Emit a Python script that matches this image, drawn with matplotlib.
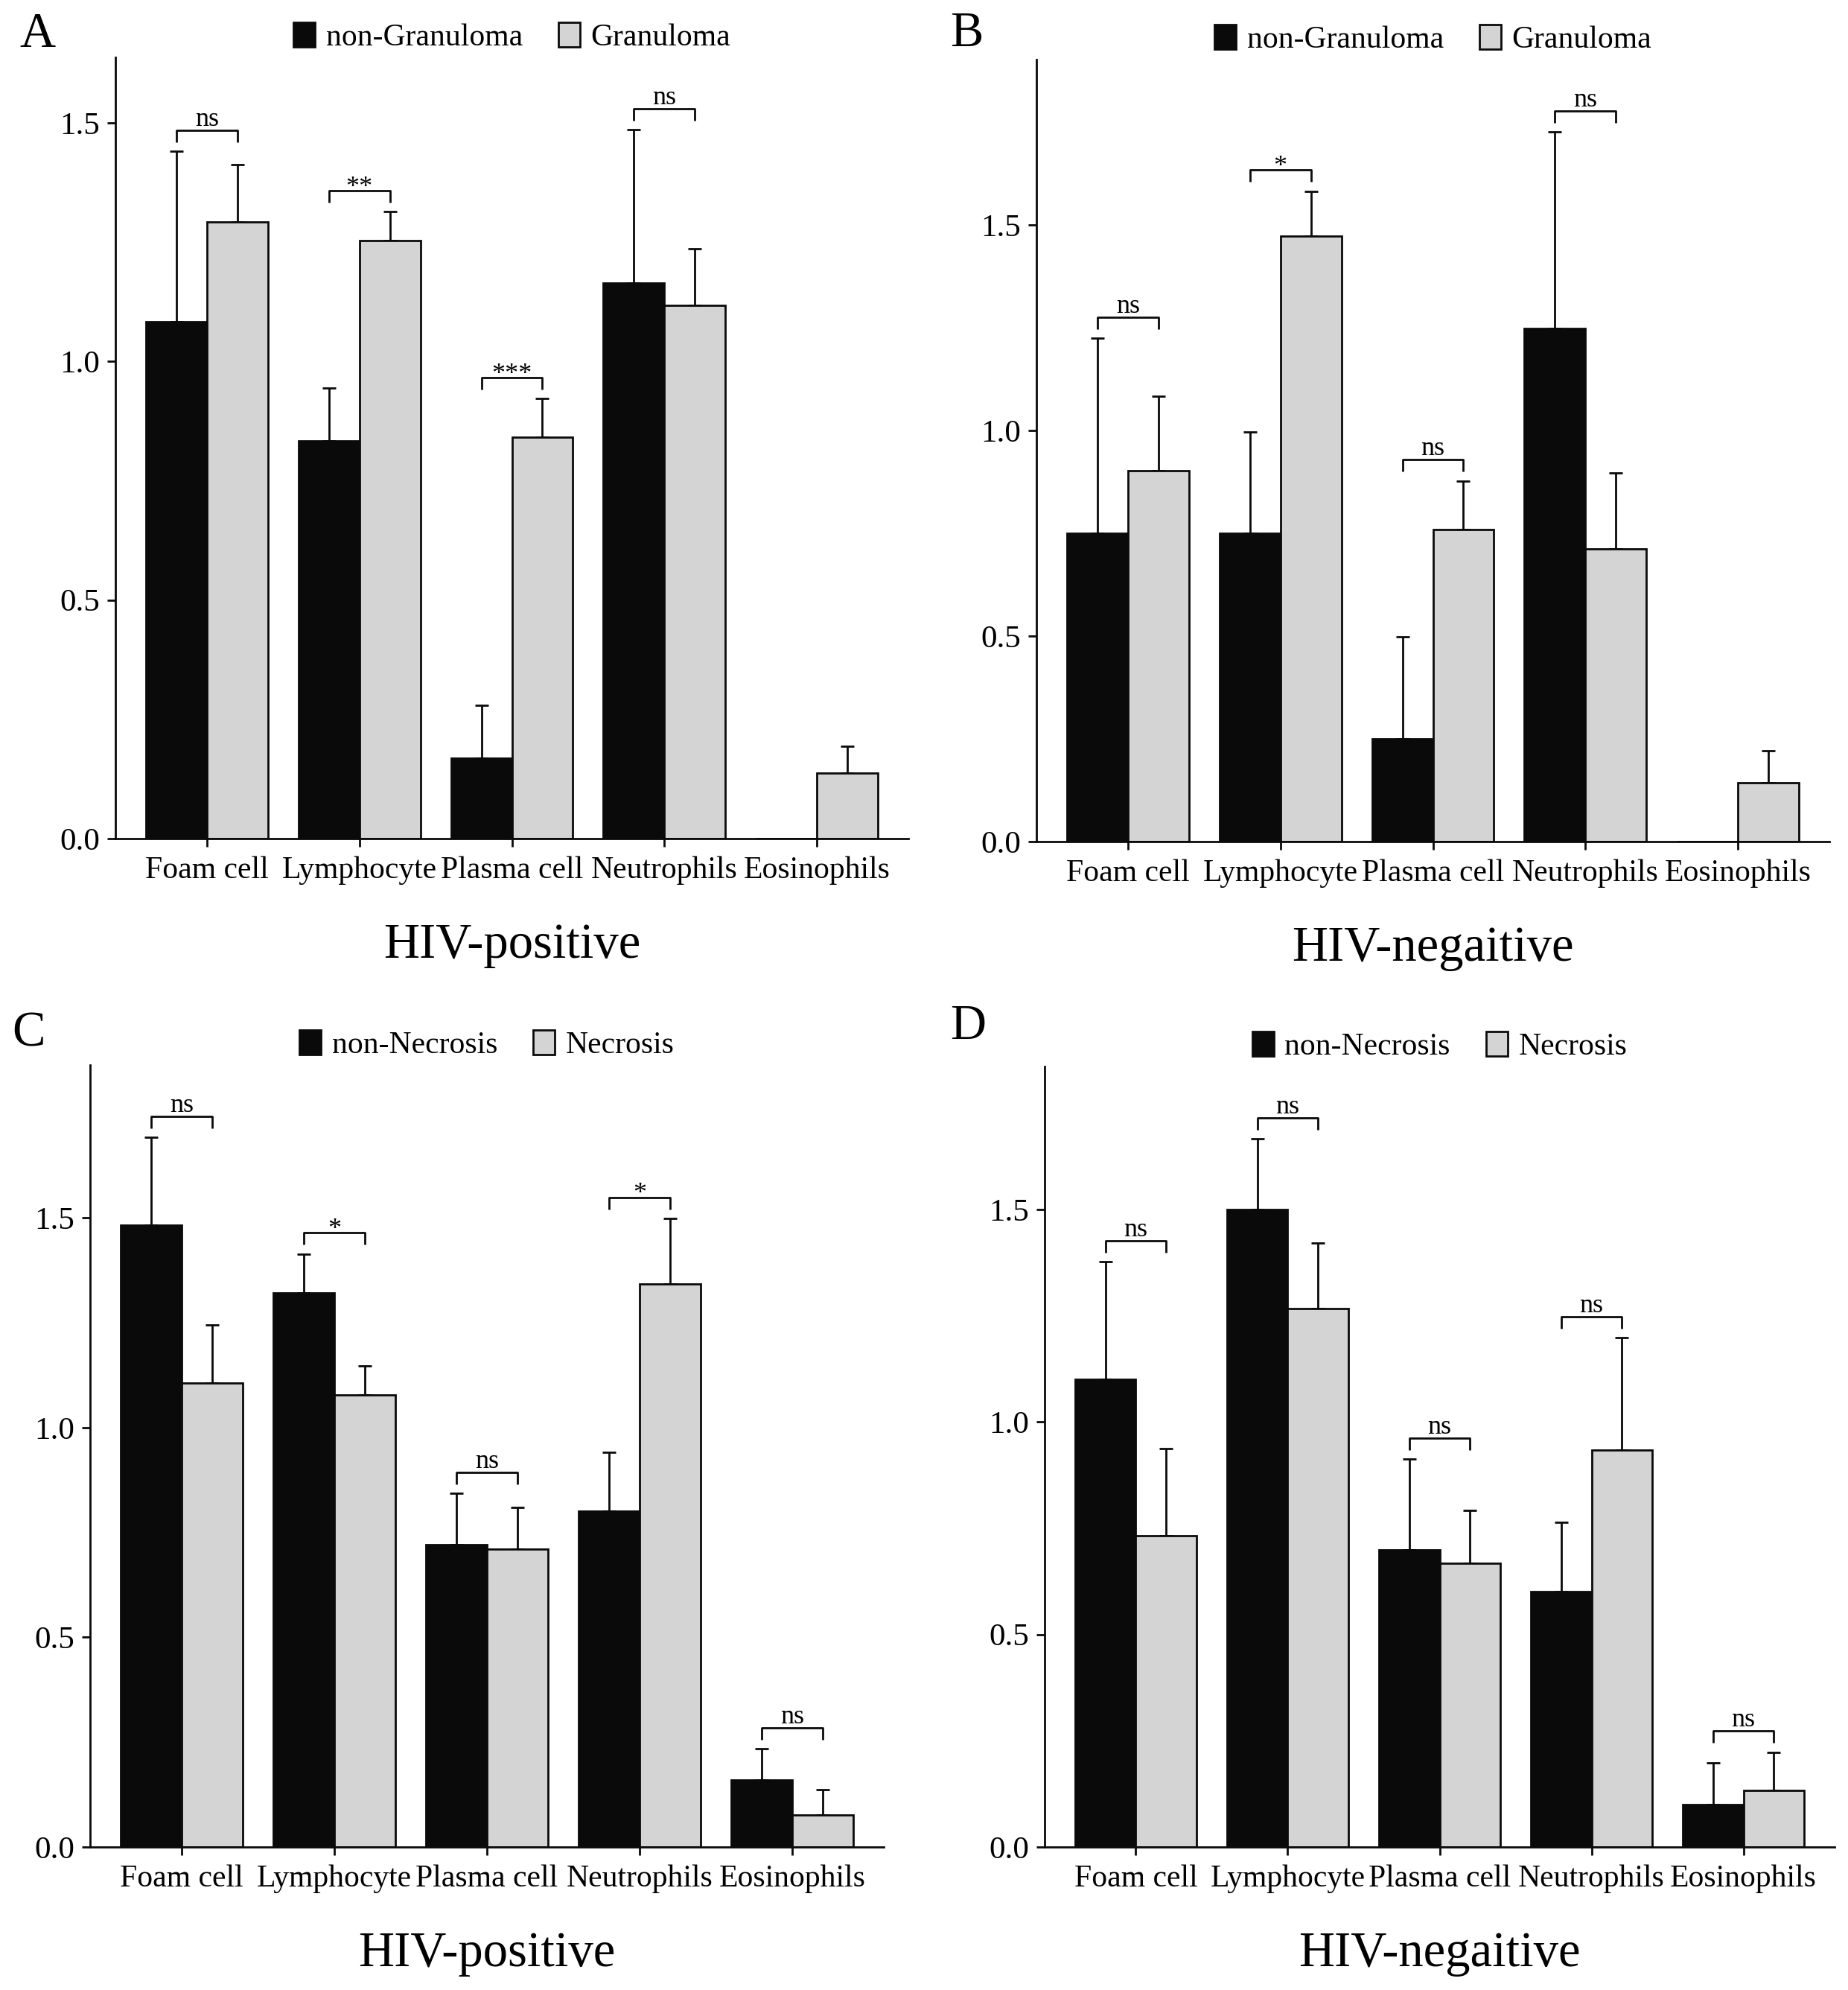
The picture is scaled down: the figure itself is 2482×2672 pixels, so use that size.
import numpy as np
import matplotlib
matplotlib.use("Agg")
import matplotlib.pyplot as plt

plt.rcParams['font.family'] = ['Liberation Serif', 'DejaVu Serif']

# cell types on the x axis
cells = ["Foam cell", "Lymphocyte", "Plasma cell", "Neutrophils", "Eosinophils"]

# A: HIV-positive, granuloma
a_non = [1.084, 0.834, 0.168, 1.165, 0.0]
a_non_err = [0.357, 0.110, 0.111, 0.321, 0.0]
a_gran = [1.293, 1.253, 0.842, 1.117, 0.138]
a_gran_err = [0.120, 0.061, 0.080, 0.119, 0.055]
a_sig = ["ns", "**", "***", "ns", None]

# B: HIV-negative, granuloma
b_non = [0.750, 0.750, 0.251, 1.248, 0.0]
b_non_err = [0.475, 0.247, 0.248, 0.479, 0.0]
b_gran = [0.902, 1.473, 0.759, 0.712, 0.143]
b_gran_err = [0.182, 0.110, 0.119, 0.185, 0.078]
b_sig = ["ns", "*", "ns", "ns", None]

# C: HIV-positive, necrosis
c_non = [1.482, 1.321, 0.721, 0.801, 0.160]
c_non_err = [0.210, 0.093, 0.122, 0.140, 0.074]
c_nec = [1.107, 1.078, 0.710, 1.342, 0.077]
c_nec_err = [0.138, 0.069, 0.100, 0.157, 0.059]
c_sig = ["ns", "*", "ns", "*", "ns"]

# D: HIV-negative, necrosis
d_non = [1.100, 1.500, 0.699, 0.601, 0.100]
d_non_err = [0.277, 0.166, 0.214, 0.162, 0.098]
d_nec = [0.733, 1.267, 0.667, 0.934, 0.134]
d_nec_err = [0.205, 0.153, 0.125, 0.264, 0.089]
d_sig = ["ns", "ns", "ns", "ns", "ns"]

BLACK = "#0a0a0a"
GRAY = "#d4d4d4"
LW = 2.0
W = 2482
H = 2672


def panel(rect, letter, letter_pos, v1, e1, v2, e2, sig, lab1, lab2, title):
    ax = fig.add_axes(rect)
    x = np.arange(len(cells))
    bw = 0.4
    ax.bar(x - bw / 2, v1, bw, color=BLACK, edgecolor=BLACK, linewidth=LW, label=lab1, zorder=2)
    ax.bar(x + bw / 2, v2, bw, color=GRAY, edgecolor=BLACK, linewidth=LW, label=lab2, zorder=2)
    for xs, v, e in ((x - bw / 2, v1, e1), (x + bw / 2, v2, e2)):
        v = np.array(v)
        e = np.array(e)
        keep = e > 0
        ax.errorbar(xs[keep], v[keep], yerr=[np.zeros(keep.sum()), e[keep]], fmt="none",
                    ecolor=BLACK, elinewidth=LW, capsize=6.8, capthick=LW, zorder=1)

    tops = np.maximum(np.array(v1) + np.array(e1), np.array(v2) + np.array(e2))
    m = max(t for t, s in zip(tops, sig) if s)
    ytop = 1.102 * m
    ax.set_ylim(0, ytop)
    ax.set_xlim(-0.6, len(cells) - 0.4)

    # significance brackets
    leg = 0.0153 * ytop
    for i, s in enumerate(sig):
        if not s:
            continue
        yb = tops[i] + 0.027 * ytop
        ax.plot([i - bw / 2, i - bw / 2, i + bw / 2, i + bw / 2], [yb - leg, yb, yb, yb - leg],
                color=BLACK, lw=LW, solid_capstyle="butt", zorder=3)
        dy = 4.3 if s == "ns" else -3.5
        ax.annotate(s, (i, yb), xytext=(0, dy), textcoords="offset points",
                    ha="center", va="baseline", fontsize=26)

    ax.set_xticks(x)
    ax.set_xticklabels(cells, fontsize=30)
    ax.set_yticks([0, 0.5, 1.0, 1.5])
    ax.set_yticklabels(["0.0", "0.5", "1.0", "1.5"], fontsize=31)
    ax.tick_params(axis="both", length=8, width=LW, color=BLACK)
    ax.tick_params(axis="x", pad=9)
    ax.tick_params(axis="y", pad=7)
    for sp in ("top", "right"):
        ax.spines[sp].set_visible(False)
    for sp in ("left", "bottom"):
        ax.spines[sp].set_linewidth(LW)
        ax.spines[sp].set_color(BLACK)

    ax.annotate(title, (0.5, 0), xycoords="axes fraction", xytext=(0, -115),
                textcoords="offset points", ha="center", va="baseline", fontsize=48)
    ax.legend(loc="center", bbox_to_anchor=(0.50, 1 + 27 / (rect[3] * H)), ncol=2,
              frameon=False, fontsize=30, handlelength=0.7, handleheight=0.85,
              handletextpad=0.35, columnspacing=1.15, borderaxespad=0)
    fig.text(letter_pos[0] / W, 1 - letter_pos[1] / H, letter, fontsize=48,
             ha="left", va="baseline")
    return ax


fig = plt.figure(figsize=(W / 100, H / 100), dpi=100)

panel([155 / W, 1 - 1126 / H, 1065 / W, 1049 / H], "A", (26, 63),
      a_non, a_non_err, a_gran, a_gran_err, a_sig, "non-Granuloma", "Granuloma", "HIV-positive")
panel([1392 / W, 1 - 1130 / H, 1065 / W, 1050 / H], "B", (1276, 62),
      b_non, b_non_err, b_gran, b_gran_err, b_sig, "non-Granuloma", "Granuloma", "HIV-negaitive")
panel([121 / W, 1 - 2480 / H, 1066 / W, 1050 / H], "C", (16, 1405),
      c_non, c_non_err, c_nec, c_nec_err, c_sig, "non-Necrosis", "Necrosis", "HIV-positive")
panel([1403 / W, 1 - 2480 / H, 1061 / W, 1048 / H], "D", (1276, 1395),
      d_non, d_non_err, d_nec, d_nec_err, d_sig, "non-Necrosis", "Necrosis", "HIV-negaitive")

fig.savefig("out.png", dpi=100, facecolor="white")
